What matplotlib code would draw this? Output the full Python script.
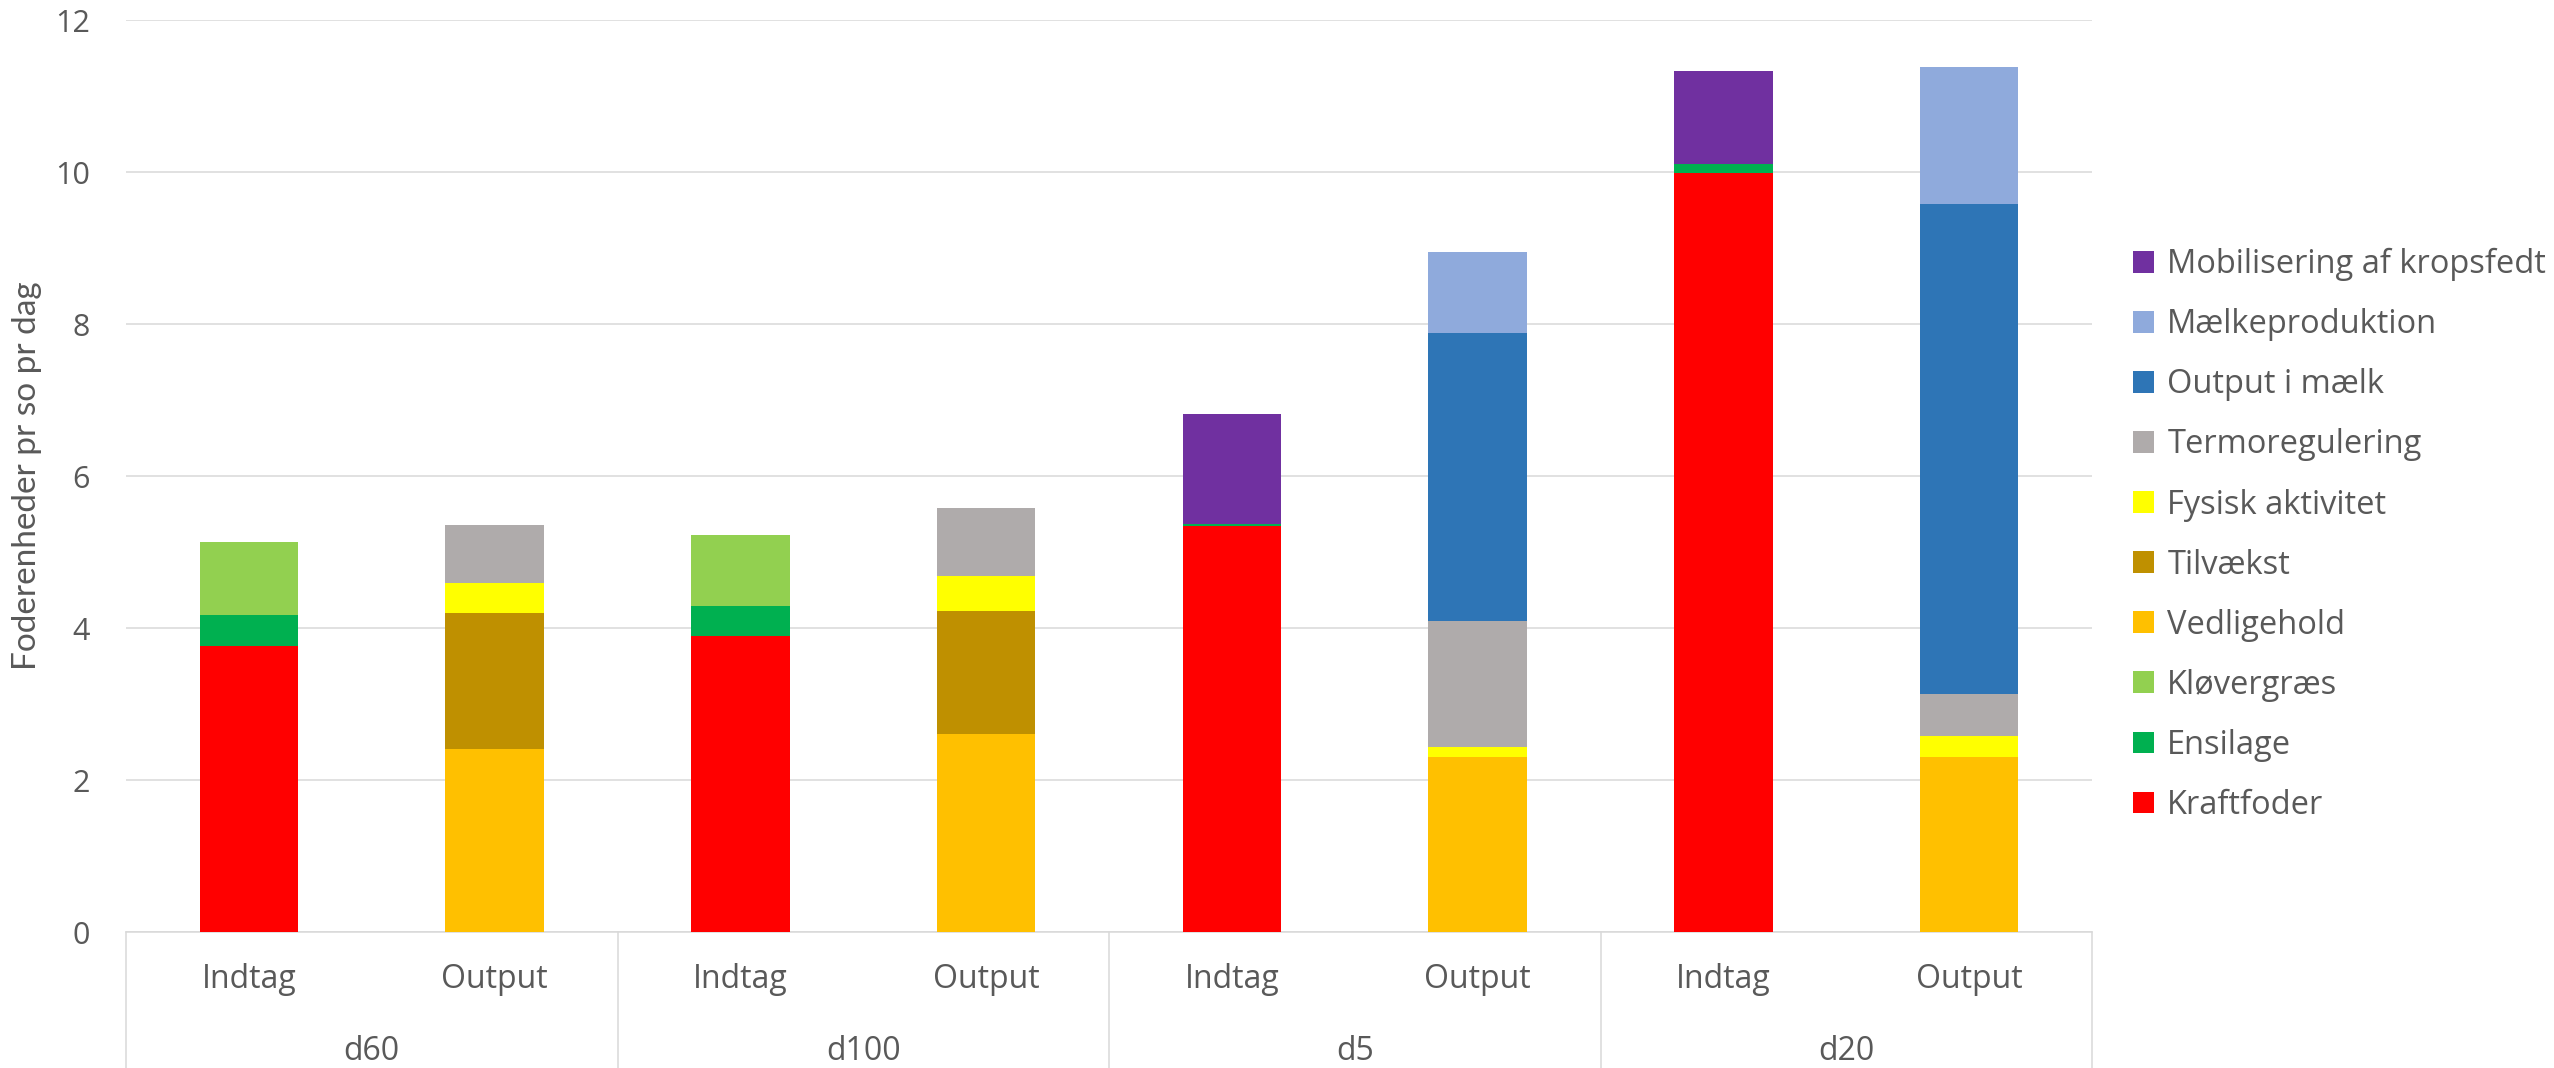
import matplotlib
matplotlib.use("Agg")
import matplotlib.pyplot as plt
import matplotlib.transforms as mtransforms
from matplotlib.lines import Line2D
from matplotlib.patches import Patch
import numpy as np

# Bars: one intake ("Indtag") and one output bar per period
groups = ["d60", "d100", "d5", "d20"]
bar_labels = ["Indtag", "Output"] * 4

# Stacked components, bottom to top, in feed units per sow per day
kraftfoder = [3.77, 0, 3.90, 0, 5.34, 0, 9.99, 0]
ensilage = [0.40, 0, 0.39, 0, 0.03, 0, 0.12, 0]
kloevergraes = [0.97, 0, 0.94, 0, 0, 0, 0, 0]
vedligehold = [0, 2.41, 0, 2.61, 0, 2.31, 0, 2.31]
tilvaekst = [0, 1.79, 0, 1.61, 0, 0, 0, 0]
fysisk_aktivitet = [0, 0.40, 0, 0.46, 0, 0.12, 0, 0.27]
termoregulering = [0, 0.76, 0, 0.90, 0, 1.67, 0, 0.55]
output_i_maelk = [0, 0, 0, 0, 0, 3.78, 0, 6.45]
maelkeproduktion = [0, 0, 0, 0, 0, 1.07, 0, 1.81]
mobilisering = [0, 0, 0, 0, 1.45, 0, 1.23, 0]

series = [
    ("Kraftfoder", kraftfoder, "#FF0000"),
    ("Ensilage", ensilage, "#00B050"),
    ("Kløvergræs", kloevergraes, "#92D050"),
    ("Vedligehold", vedligehold, "#FFC000"),
    ("Tilvækst", tilvaekst, "#BF9000"),
    ("Fysisk aktivitet", fysisk_aktivitet, "#FFFF00"),
    ("Termoregulering", termoregulering, "#AFABAB"),
    ("Output i mælk", output_i_maelk, "#2E75B6"),
    ("Mælkeproduktion", maelkeproduktion, "#8FAADC"),
    ("Mobilisering af kropsfedt", mobilisering, "#7030A0"),
]

y_ticks = [0, 2, 4, 6, 8, 10, 12]
y_label = "Foderenheder pr so pr dag"

plt.rcParams["font.family"] = ["Open Sans", "DejaVu Sans"]
text_color = "#595959"
line_color = "#D9D9D9"

W, H = 2554, 1068
fig = plt.figure(figsize=(W / 100, H / 100), dpi=100)
ax = fig.add_axes([126 / W, 1 - 932 / H, (2092 - 126) / W, (932 - 20.4) / H])

x = np.arange(len(bar_labels))
bottom = np.zeros(len(bar_labels))
for name, vals, color in series:
    v = np.array(vals, dtype=float)
    ax.bar(x, v, width=0.4, bottom=bottom, color=color, label=name,
           edgecolor="none", zorder=3)
    bottom += v

ax.set_xlim(-0.5, len(bar_labels) - 0.5)
ax.set_ylim(0, 12)
ax.set_yticks(y_ticks)
ax.set_yticklabels([str(t) for t in y_ticks], fontsize=22, color=text_color)
ax.tick_params(axis="y", length=0, pad=26)
ax.set_xticks([])
ax.grid(axis="y", color=line_color, linewidth=1.1, zorder=0)
for side in ["left", "right", "top"]:
    ax.spines[side].set_visible(False)
ax.spines["bottom"].set_color(line_color)
ax.spines["bottom"].set_linewidth(1.1)

# Two-level category axis below the plot
trans = mtransforms.blended_transform_factory(ax.transData, fig.transFigure)
for xi, lab in zip(x, bar_labels):
    ax.text(xi, 1 - 980 / H, lab, transform=trans, ha="center", va="center",
            fontsize=23, color=text_color, clip_on=False)
for gi, g in enumerate(groups):
    ax.text(2 * gi + 0.5, 1 - 1051 / H, g, transform=trans, ha="center",
            va="center", fontsize=23, color=text_color, clip_on=False)
for sep in np.arange(-0.5, len(bar_labels), 2):
    ax.add_line(Line2D([sep, sep], [1 - 932 / H, 0], transform=trans,
                       color=line_color, linewidth=1.1, clip_on=False))

fig.text(27 / W, 1 - 476 / H, y_label, rotation=90, ha="center", va="center",
         fontsize=24, color=text_color, family=["Lato", "DejaVu Sans"])

handles = [Patch(facecolor=c, edgecolor="none") for _, _, c in series][::-1]
labels = [n for n, _, _ in series][::-1]
ax.legend(handles, labels, loc="center left",
          bbox_to_anchor=(2133 / W, 1 - 535 / H), bbox_transform=fig.transFigure,
          frameon=False, fontsize=23.5, labelcolor=text_color,
          handlelength=0.65, handleheight=0.65, handletextpad=0.4,
          labelspacing=0.83, borderpad=0, borderaxespad=0)

fig.savefig("out.png", dpi=100)
